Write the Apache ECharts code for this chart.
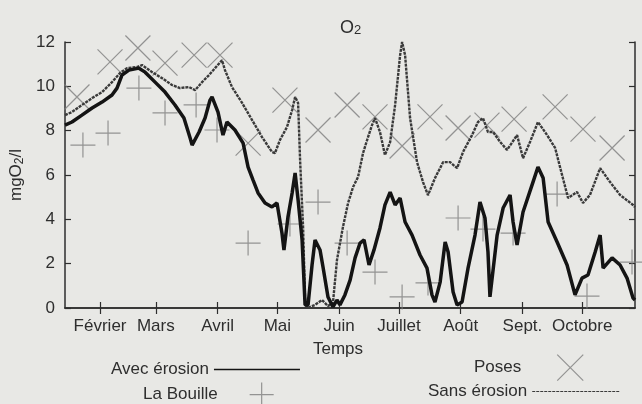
<!DOCTYPE html>
<html>
<head>
<meta charset="utf-8">
<script src="https://cdn.jsdelivr.net/npm/echarts@6/dist/echarts.min.js"></script>
<style>
  html, body { margin: 0; padding: 0; background: #e8e8e5; }
  #chart { width: 642px; height: 404px; }
</style>
</head>
<body>
<div id="chart"></div>
<script>
// Dissolved oxygen (mg O2/l) through the season; x is the day of the year.
const monthStarts = [31, 59, 90, 120, 151, 181, 212, 243, 273];
const monthNames = ['Février', 'Mars', 'Avril', 'Mai', 'Juin', 'Juillet', 'Août', 'Sept.', 'Octobre'];
const dayMin = 13.4;
const dayMax = 299.5;

// Model run without sediment erosion
const sansDays = [13.4, 16.9, 21.9, 27.0, 32.0, 37.0, 41.0, 44.5, 49.5, 52.1, 57.1, 62.1, 67.1, 71.1, 75.6, 78.7,
  82.2, 85.7, 88.7, 92.2, 93.7, 97.2, 102.3, 107.3, 112.3, 117.3, 118.8, 121.3, 124.8, 127.4, 128.9, 130.4,
  131.4, 132.9, 133.9, 134.9, 138.9, 142.4, 145.4, 147.9, 149.9, 152.9, 155.5, 158.0, 160.5, 163.0, 165.5,
  167.5, 169.0, 171.5, 174.0, 176.6, 179.1, 181.6, 182.6, 184.1, 186.6, 190.1, 193.1, 195.6, 199.1, 203.2,
  206.7, 210.2, 213.2, 217.7, 220.7, 223.2, 225.7, 228.3, 231.8, 235.3, 240.3, 243.3, 246.8, 250.8, 255.4,
  259.4, 262.9, 265.9, 270.4, 273.4, 276.9, 282.0, 287.0, 292.0, 298.5, 299.5];
const sansValues = [8.70, 8.84, 9.16, 9.47, 9.74, 10.19, 10.60, 10.82, 10.87, 10.96, 10.64, 10.37, 10.06, 9.92, 9.97, 9.83,
  10.19, 10.51, 10.82, 11.18, 10.73, 9.97, 9.25, 8.48, 7.71, 7.04, 6.99, 7.58, 8.16, 8.93, 9.52, 9.25,
  6.67, 3.65, 0.36, 0.00, 0.14, 0.36, 0.09, 0.23, 2.16, 3.65, 4.74, 5.46, 5.91, 6.99, 7.71,
  8.25, 8.57, 7.94, 6.90, 7.49, 9.16, 11.41, 12.0, 11.41, 8.57, 6.58, 5.68, 5.09, 5.86, 6.58,
  6.58, 6.31, 7.04, 7.80, 8.39, 8.57, 7.94, 7.94, 7.49, 7.13, 7.80, 6.76, 7.49, 8.39, 7.80,
  7.22, 6.00, 4.96, 5.23, 4.74, 5.10, 6.31, 5.68, 5.10, 4.65, 4.55];

// Model run with sediment erosion
const avecDays = [13.4, 16.9, 21.9, 27.0, 32.0, 37.0, 39.5, 42.0, 45.5, 50.5, 53.6, 58.6, 63.6, 68.6, 73.1, 76.2,
  77.2, 80.7, 83.7, 86.2, 87.2, 90.2, 92.7, 94.7, 98.7, 102.8, 105.3, 107.8, 110.3, 113.8, 117.3, 119.8,
  122.3, 123.3, 125.3, 127.4, 128.9, 130.4, 132.4, 133.9, 135.4, 137.4, 138.9, 141.4, 142.9, 145.4, 147.9,
  149.9, 151.4, 153.9, 156.5, 159.0, 161.5, 163.5, 166.0, 168.5, 171.5, 174.0, 176.6, 179.1, 181.6, 184.1,
  187.6, 191.6, 195.1, 197.6, 199.1, 201.7, 204.2, 205.7, 208.2, 210.2, 212.7, 215.7, 219.2, 221.7, 224.2,
  225.7, 226.7, 230.3, 233.3, 236.8, 238.3, 240.3, 243.3, 248.3, 250.8, 253.4, 255.9, 260.4, 265.4, 269.4,
  272.9, 275.9, 279.5, 282.0, 283.5, 288.0, 292.0, 295.5, 298.5, 299.5];
const avecValues = [8.25, 8.39, 8.70, 9.02, 9.29, 9.61, 9.92, 10.51, 10.73, 10.82, 10.64, 10.19, 9.74, 9.16, 8.57, 7.67,
  7.35, 7.94, 8.57, 9.38, 9.52, 8.84, 7.80, 8.39, 8.03, 7.44, 6.36, 5.77, 5.19, 4.74, 4.56, 4.74,
  3.38, 2.62, 4.10, 5.19, 6.09, 4.87, 3.07, 0.14, 0.14, 1.94, 3.07, 2.62, 1.85, 0.50, 0.05,
  0.36, 0.14, 0.59, 1.26, 2.26, 2.93, 3.07, 1.94, 2.62, 3.61, 4.65, 5.23, 4.65, 4.96, 3.88,
  3.29, 2.39, 1.80, 0.59, 0.27, 1.17, 2.98, 2.53, 0.72, 0.14, 0.27, 1.80, 3.29, 4.78, 4.06,
  2.53, 0.50, 3.29, 4.51, 5.10, 3.88, 2.84, 4.33, 5.68, 6.36, 5.86, 3.88, 2.98, 1.94, 0.59,
  1.35, 1.49, 2.53, 3.29, 1.80, 2.26, 1.94, 1.35, 0.45, 0.36];

// Field measurements at Poses
const posesDays = [19.4, 36.0, 50.0, 63.6, 78.2, 91.2, 105.3, 123.8, 140.4, 155.0, 169.0, 182.6, 196.6, 210.7,
  225.2, 238.8, 259.4, 273.4, 288.0];
const posesValues = [9.52, 11.10, 11.73, 11.05, 11.41, 11.41, 7.44, 9.38, 8.03, 9.16, 8.62, 7.31, 8.62, 8.12,
  8.25, 8.52, 9.07, 8.07, 7.22];

// Field measurements at La Bouille
const bouilleDays = [22.4, 35.0, 50.5, 63.6, 79.2, 89.7, 105.3, 126.3, 140.4, 155.0, 169.0, 182.6, 195.6, 210.7,
  223.2, 238.3, 260.4, 275.4, 298.0];
const bouilleValues = [7.35, 7.89, 9.92, 8.80, 9.16, 8.03, 2.93, 3.79, 4.78, 2.93, 1.62, 0.50, 1.13, 4.06,
  3.56, 3.38, 5.14, 0.54, 2.07];

const pairs = (xs, ys) => xs.map((x, i) => [x, ys[i]]);

const FONT = '"Liberation Sans", Arial, sans-serif';
const INK = '#2e2e2e';
const MARK = '#7d7d7d';
const CROSS = 'path://M0,0L24,24M24,0L0,24';
const PLUS = 'path://M12,0L12,24M0,12L24,12';

const chart = echarts.init(document.getElementById('chart'), null, { renderer: 'canvas' });

const frameLine = { lineStyle: { color: INK, width: 1.5 } };
const innerTick = { inside: true, length: 6, lineStyle: { color: INK, width: 1.2 } };
const legendText = { fontSize: 17, color: INK, fontFamily: FONT };

chart.setOption({
  backgroundColor: '#e8e8e5',
  animation: false,
  textStyle: { fontFamily: FONT },
  title: {
    text: '{o|O}{s|2}',
    left: 335,
    top: 12,
    textStyle: {
      fontWeight: 'normal',
      rich: {
        o: { fontSize: 18, fontWeight: 'normal', color: INK, fontFamily: FONT, verticalAlign: 'bottom', lineHeight: 20 },
        s: { fontSize: 13, fontWeight: 'normal', color: INK, fontFamily: FONT, verticalAlign: 'bottom', lineHeight: 8 }
      }
    }
  },
  grid: { left: 65, right: 7, top: 42, bottom: 96 },
  xAxis: [
    {
      type: 'value', min: dayMin, max: dayMax,
      axisLine: frameLine,
      splitLine: { show: false },
      axisTick: Object.assign({ customValues: monthStarts }, innerTick),
      axisLabel: {
        customValues: monthStarts,
        formatter: v => monthNames[monthStarts.indexOf(v)] || '',
        fontSize: 17, color: INK, margin: 10
      },
      name: 'Temps', nameLocation: 'middle', nameGap: 33,
      nameTextStyle: { fontSize: 17, color: INK, padding: [0, 24, 0, 0] }
    },
    {
      type: 'value', min: dayMin, max: dayMax, position: 'top',
      axisLine: frameLine,
      splitLine: { show: false },
      axisTick: Object.assign({ customValues: monthStarts }, innerTick),
      axisLabel: { show: false }
    }
  ],
  yAxis: [
    {
      type: 'value', min: 0, max: 12, interval: 2,
      axisLine: Object.assign({ show: true }, frameLine),
      splitLine: { show: false },
      axisTick: Object.assign({ show: true }, innerTick),
      axisLabel: { fontSize: 17, color: INK, margin: 10 },
      name: '{a|mgO}{b|2}{a|/l}', nameLocation: 'middle', nameGap: 38,
      nameTextStyle: {
        rich: {
          a: { fontSize: 17, color: INK, fontFamily: FONT, verticalAlign: 'bottom', lineHeight: 20 },
          b: { fontSize: 12, color: INK, fontFamily: FONT, verticalAlign: 'bottom', lineHeight: 8 }
        }
      }
    },
    {
      type: 'value', min: 0, max: 12, interval: 2, position: 'right',
      axisLine: Object.assign({ show: true }, frameLine),
      splitLine: { show: false },
      axisTick: Object.assign({ show: true }, innerTick),
      axisLabel: { show: false }
    }
  ],
  legend: [
    {
      data: ['Avec érosion'], left: 111, top: 361, padding: 0, align: 'right',
      itemWidth: 86, itemHeight: 20, selectedMode: false,
      itemStyle: { opacity: 0 },
      lineStyle: { width: 1.5, color: '#141414' },
      textStyle: legendText
    },
    {
      data: ['La Bouille'], left: 143, top: 382, padding: 0, align: 'right',
      itemWidth: 78, itemHeight: 24, selectedMode: false,
      itemStyle: { borderWidth: 1.2 },
      textStyle: legendText
    },
    {
      data: ['Poses'], left: 474, top: 354, padding: 0, align: 'right',
      itemWidth: 88, itemHeight: 26, selectedMode: false,
      itemStyle: { borderWidth: 1.2 },
      textStyle: legendText
    },
    {
      data: ['Sans érosion'], left: 428, top: 383, padding: 0, align: 'right',
      itemWidth: 88, itemHeight: 20, selectedMode: false,
      itemStyle: { opacity: 0 },
      lineStyle: { width: 1.2, color: '#3a3a3a' },
      textStyle: legendText
    }
  ],
  series: [
    {
      name: 'Poses', type: 'scatter', data: pairs(posesDays, posesValues),
      symbol: CROSS, symbolSize: 25, z: 2,
      itemStyle: { color: 'rgba(0,0,0,0)', borderColor: MARK, borderWidth: 1.2 }
    },
    {
      name: 'La Bouille', type: 'scatter', data: pairs(bouilleDays, bouilleValues),
      symbol: PLUS, symbolSize: 25, z: 2,
      itemStyle: { color: 'rgba(0,0,0,0)', borderColor: MARK, borderWidth: 1.2 }
    },
    {
      name: 'Sans érosion', type: 'line', data: pairs(sansDays, sansValues),
      symbol: 'none', z: 3,
      itemStyle: { color: '#3a3a3a' },
      lineStyle: { color: '#3a3a3a', width: 2.4, type: [3, 1] }
    },
    {
      name: 'Avec érosion', type: 'line', data: pairs(avecDays, avecValues),
      symbol: 'none', z: 4,
      itemStyle: { color: '#141414' },
      lineStyle: { color: '#141414', width: 3.5 }
    }
  ]
});
</script>
</body>
</html>
